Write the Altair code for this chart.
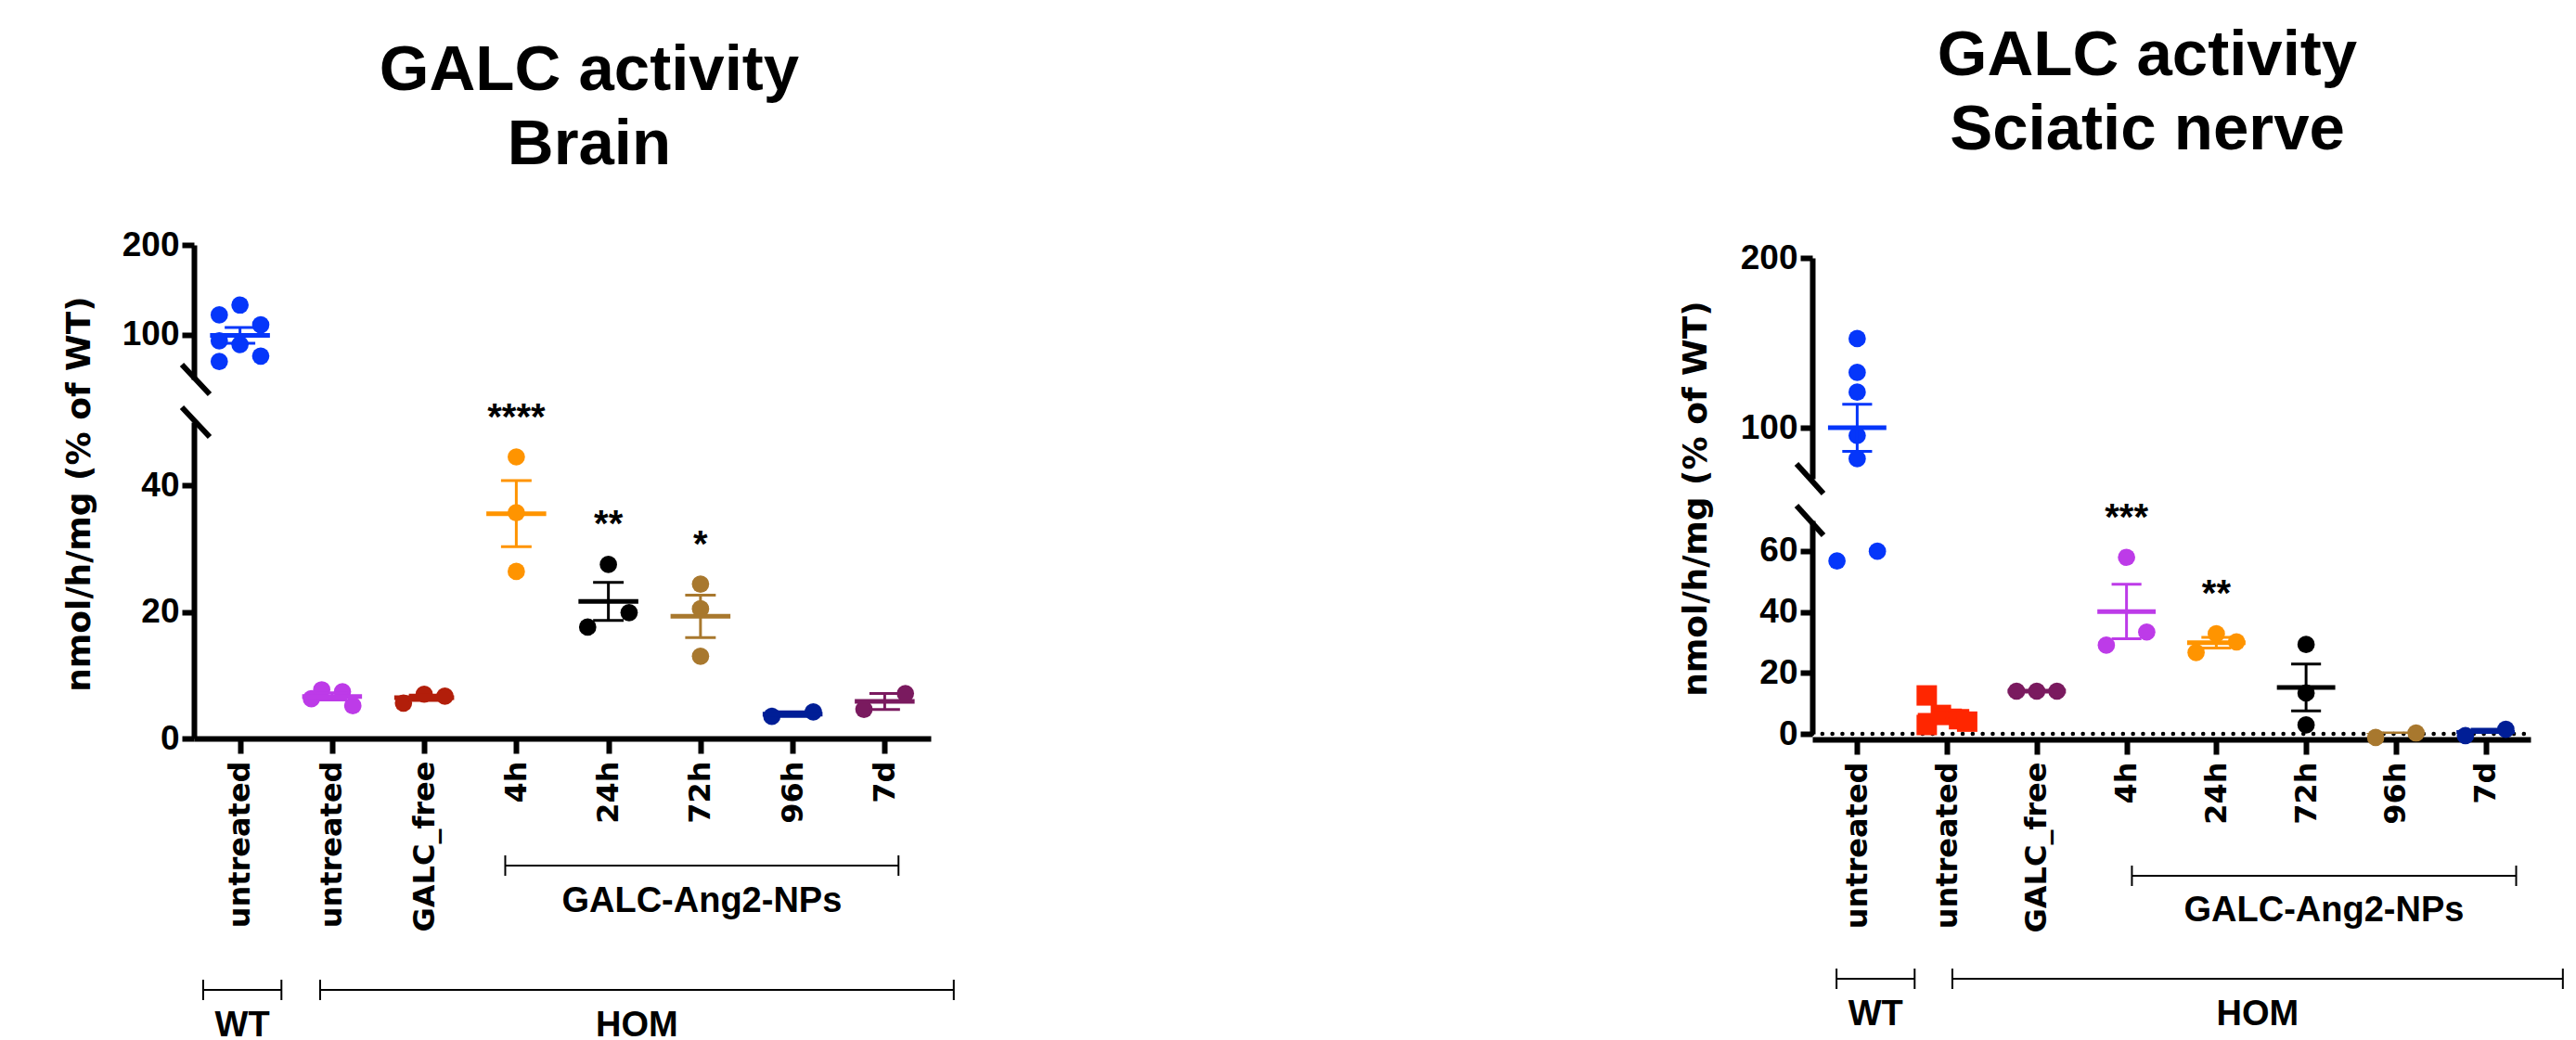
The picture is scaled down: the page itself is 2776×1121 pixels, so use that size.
import json
import altair as alt
import pandas as pd

# ---------------- data ----------------
CATEGORIES = ["untreated", "untreated", "GALC_free", "4h", "24h", "72h", "96h", "7d"]
GROUP_IDS = ["WT_untreated", "HOM_untreated", "HOM_GALC_free", "NP_4h",
             "NP_24h", "NP_72h", "NP_96h", "NP_7d"]

BRAIN_VALUES = [
    [133, 122, 111, 93, 89, 76, 70],
    [6.3, 7.7, 7.4, 5.2],
    [5.6, 7.0, 6.7],
    [44.5, 35.7, 26.4],
    [17.6, 27.5, 19.9],
    [24.4, 20.5, 13.0],
    [3.5, 4.2],
    [4.6, 7.1],
]
BRAIN_LANES = [
    [0, -1, 1, -1, 0, 1, -1],
    [-1, -0.5, 0.5, 1],
    [-1, 0, 1],
    [0, 0, 0],
    [-1, 0, 1],
    [0, 0, 0],
    [-1, 1],
    [-1, 1],
]
BRAIN_STARS = ["", "", "", "****", "**", "*", "", ""]

SCIATIC_VALUES = [
    [152.5, 132.6, 121, 95.4, 81.8, 56.7, 59.9],
    [12.6, 2.9, 6.2, 4.8, 4.0],
    [14.0, 14.0, 14.0],
    [57.9, 33.4, 29.1],
    [32.8, 30.2, 26.7],
    [29.3, 13.4, 2.9],
    [-1.2, 0.3],
    [-0.6, 1.5],
]
SCIATIC_LANES = [
    [0, 0, 0, 0, 0, -1, 1],
    [-1, -1, -0.3, 0.6, 1],
    [-1, 0, 1],
    [0, 1, -1],
    [0, 1, -1],
    [0, 0, 0],
    [-1, 1],
    [-1, 1],
]
SCIATIC_STARS = ["", "", "", "***", "**", "", "", ""]

BRACKET_LABELS = ["GALC-Ang2-NPs", "WT", "HOM"]
BRACKET_ROWS = [0, 1, 1]
BRAIN_BRACKET_FROM = [2.88, -0.40, 0.87]
BRAIN_BRACKET_TO = [7.15, 0.45, 7.75]
SCIATIC_BRACKET_FROM = [3.06, -0.23, 1.06]
SCIATIC_BRACKET_TO = [7.34, 0.64, 7.86]

# ---------------- styles ----------------
BRAIN_COLORS = ["#0536FA", "#BD3BE8", "#B21E0A", "#FF9400", "#000000", "#A8782E", "#001E96", "#7A1A5F"]
BRAIN_SHAPES = ["circle"] * 8
SCIATIC_COLORS = ["#0536FA", "#FF2600", "#7A1A5F", "#BD3BE8", "#FF9400", "#000000", "#A8782E", "#001E96"]
SCIATIC_SHAPES = ["circle", "square", "circle", "circle", "circle", "circle", "circle", "circle"]

LABEL_EXPR = json.dumps(CATEGORIES) + "[datum.value]"

YAX = dict(grid=False, domainColor="black", domainWidth=6, tickColor="black", tickWidth=6,
           tickSize=13, labelFont="Liberation Sans", labelFontSize=37, labelFontWeight="bold",
           labelColor="black", labelPadding=3)


def points_frame(values, lanes, stars):
    rows = []
    for i, (vs, ls) in enumerate(zip(values, lanes)):
        for v, l in zip(vs, ls):
            rows.append({"gid": GROUP_IDS[i], "cat": i, "value": v, "lane": l, "star": stars[i]})
    return pd.DataFrame(rows)


def build_panel(cfg):
    df = points_frame(cfg["values"], cfg["lanes"], cfg["stars"])
    W = cfg["width"]
    brk = cfg["brk"]
    xs = alt.Scale(domain=[-0.5, 7.5], nice=False, zero=False)
    ys_up = alt.Scale(domain=[brk, 200], nice=False, zero=False, range=[cfg["up_h"], cfg["up_top"]])
    ys_lo = alt.Scale(domain=[0, brk], nice=False, zero=False)
    color = alt.Color("gid:N", scale=alt.Scale(domain=GROUP_IDS, range=cfg["colors"]), legend=None)

    xax = alt.Axis(values=list(range(8)), labelExpr=LABEL_EXPR, labelAngle=270,
                   labelFont="DejaVu Sans", labelFontSize=32, labelFontWeight="bold",
                   labelColor="black", tickSize=16, tickWidth=6, tickColor="black",
                   domainWidth=6, domainColor="black", labelPadding=8, grid=False,
                   title=None, offset=cfg["x_offset"], labelOverlap=False, labelFlush=False,
                   labelLimit=600)
    yax_up = alt.Axis(values=[100, 200], title=None, **YAX)
    yax_lo = alt.Axis(values=cfg["lo_ticks"], title="nmol/h/mg (% of WT)",
                      titleX=cfg["ytitle_x"], titleY=cfg["ytitle_y"], titleAngle=270,
                      titleAlign="center", titleBaseline="top", titleFont="DejaVu Sans",
                      titleFontSize=36, titleFontWeight="bold", titleColor="black",
                      titleLimit=900, **YAX)

    def XU(f):
        return alt.X(f, scale=xs, axis=None)

    def XL(f):
        return alt.X(f, scale=xs, axis=xax)

    def YU(f):
        return alt.Y(f, scale=ys_up, axis=yax_up)

    def YL(f):
        return alt.Y(f, scale=ys_lo, axis=yax_lo)

    def point_layers(filt, X, Y):
        layers = []
        for shp in sorted(set(cfg["shapes"])):
            ids = [g for g, s in zip(GROUP_IDS, cfg["shapes"]) if s == shp]
            size = 484 if shp == "square" else 350
            layers.append(
                alt.Chart(df)
                .transform_filter(filt)
                .transform_filter(alt.FieldOneOfPredicate(field="gid", oneOf=ids))
                .transform_calculate(xp="datum.cat + datum.lane * 0.225")
                .mark_point(shape=shp, filled=True, size=size, opacity=1)
                .encode(x=X("xp:Q"), y=Y("value:Q"), color=color)
            )
        return layers

    def error_layers(X, Y):
        agg = (
            alt.Chart(df)
            .transform_aggregate(m="mean(value)", sd="stdev(value)", n="count()", groupby=["gid", "cat"])
            .transform_calculate(
                se="isValid(datum.sd) ? datum.sd / sqrt(datum.n) : 0",
                lo="datum.m - datum.se", hi="datum.m + datum.se",
                xa="datum.cat - 0.325", xb="datum.cat + 0.325",
                ca="datum.cat - 0.166", cb="datum.cat + 0.166",
            )
        )
        mean = agg.mark_rule(strokeWidth=5, clip=True).encode(x=X("xa:Q"), x2="xb:Q", y=Y("m:Q"), color=color)
        vert = agg.mark_rule(strokeWidth=3, clip=True).encode(x=X("cat:Q"), y=Y("lo:Q"), y2="hi:Q", color=color)
        caps = (agg.transform_fold(["lo", "hi"], as_=["which", "cy"])
                .mark_rule(strokeWidth=3, clip=True)
                .encode(x=X("ca:Q"), x2="cb:Q", y=Y("cy:Q"), color=color))
        return [vert, caps, mean]

    one = pd.DataFrame({"k": [0]})
    sx0, sx1 = cfg["slash_x"]

    # ---------- upper segment ----------
    up_h = cfg["up_h"]
    slash_up = alt.Chart(one).mark_rule(strokeWidth=6, color="black").encode(
        x=alt.value(sx0), x2=alt.value(sx1), y=alt.value(up_h - 16), y2=alt.value(up_h + 16))
    upper = alt.layer(
        *point_layers(f"datum.value >= {brk}", XU, YU),
        *error_layers(XU, YU),
        slash_up,
    ).properties(
        width=W, height=up_h,
        title=alt.TitleParams(text=cfg["title"], font="Liberation Sans", fontSize=69,
                              fontWeight="bold", color="black", lineHeight=80,
                              anchor="middle", frame="group", dx=cfg["title_dx"],
                              offset=cfg["title_offset"]),
    )

    # ---------- lower segment ----------
    lo_h = cfg["lo_h"]
    layers = []
    if cfg["zero_line"]:
        zdf = pd.DataFrame({"ref": [0]})
        layers.append(alt.Chart(zdf).mark_rule(strokeDash=[0.1, 10.7], strokeCap="round",
                                               strokeWidth=4.5, color="black")
                      .encode(y=YL("ref:Q"), x=alt.value(0), x2=alt.value(W)))
    layers += point_layers(f"datum.value < {brk}", XL, YL)
    layers += error_layers(XL, YL)
    layers.append(alt.Chart(one).mark_rule(strokeWidth=6, color="black").encode(
        x=alt.value(sx0), x2=alt.value(sx1), y=alt.value(-16), y2=alt.value(16)))
    # significance stars above the highest point of the group
    layers.append(
        alt.Chart(df)
        .transform_filter("datum.star != ''")
        .transform_aggregate(top="max(value)", groupby=["cat", "star"])
        .mark_text(font="Liberation Sans", fontSize=40, fontWeight="bold", color="black",
                   baseline="alphabetic", align="center", dy=-30)
        .encode(x=XL("cat:Q"), y=YL("top:Q"), text="star:N")
    )
    bdf = pd.DataFrame({"x0": cfg["br_from"], "x1": cfg["br_to"],
                        "label": BRACKET_LABELS, "row": BRACKET_ROWS})
    for r, (ry, ty) in enumerate(zip(cfg["br_y"], cfg["br_text_y"])):
        base = alt.Chart(bdf).transform_filter(f"datum.row == {r}")
        layers.append(base.mark_rule(strokeWidth=2, color="black").encode(
            x=XL("x0:Q"), x2="x1:Q", y=alt.value(ry)))
        layers.append(base.transform_fold(["x0", "x1"], as_=["end", "ex"])
                      .mark_rule(strokeWidth=2, color="black")
                      .encode(x=XL("ex:Q"), y=alt.value(ry - 11), y2=alt.value(ry + 11)))
        layers.append(base.transform_calculate(xm="(datum.x0 + datum.x1) / 2")
                      .mark_text(font="Liberation Sans", fontSize=38, fontWeight="bold",
                                 color="black", baseline="alphabetic", align="center")
                      .encode(x=XL("xm:Q"), y=alt.value(ty), text="label:N"))
    if cfg.get("anchor"):
        ax, ay = cfg["anchor"]
        layers.append(alt.Chart(one).mark_rule(opacity=0, strokeWidth=0).encode(
            x=alt.value(ax), x2=alt.value(ax + 1), y=alt.value(ay), y2=alt.value(ay)))
    lower = alt.layer(*layers).properties(width=W, height=lo_h)

    return alt.vconcat(upper, lower, spacing=cfg["gap"], bounds="flush")


brain_cfg = dict(
    values=BRAIN_VALUES, lanes=BRAIN_LANES, stars=BRAIN_STARS,
    colors=BRAIN_COLORS, shapes=BRAIN_SHAPES,
    width=794, brk=50, up_h=145, up_top=0, lo_h=341, gap=46,
    lo_ticks=[0, 20, 40], x_offset=0, zero_line=False,
    ytitle_x=-141, ytitle_y=77, slash_x=(-13, 17),
    title=["GALC activity", "Brain"], title_dx=29, title_offset=54,
    br_from=BRAIN_BRACKET_FROM, br_to=BRAIN_BRACKET_TO,
    br_y=[478, 612], br_text_y=[528, 662],
    anchor=(-201, -447),
)
sciatic_cfg = dict(
    values=SCIATIC_VALUES, lanes=SCIATIC_LANES, stars=SCIATIC_STARS,
    colors=SCIATIC_COLORS, shapes=SCIATIC_SHAPES,
    width=774, brk=70, up_h=252, up_top=14, lo_h=230, gap=45,
    lo_ticks=[0, 20, 40, 60], x_offset=6, zero_line=True,
    ytitle_x=-143, ytitle_y=-24, slash_x=(-17, 12),
    title=["GALC activity", "Sciatic nerve"], title_dx=-26, title_offset=84,
    br_from=SCIATIC_BRACKET_FROM, br_to=SCIATIC_BRACKET_TO,
    br_y=[383, 494], br_text_y=[432, 544],
)

# nested flush layouts report no width, so the spacing is measured from the left panel's origin
chart = (
    alt.hconcat(build_panel(brain_cfg), build_panel(sciatic_cfg), spacing=1744, bounds="flush")
    .resolve_scale(color="independent")
    .properties(padding={"left": 0, "top": 0, "right": 0, "bottom": 0}, background="white")
    .configure_view(strokeWidth=0)
)

chart.save("out.html", embed_options={"renderer": "svg", "actions": False})
